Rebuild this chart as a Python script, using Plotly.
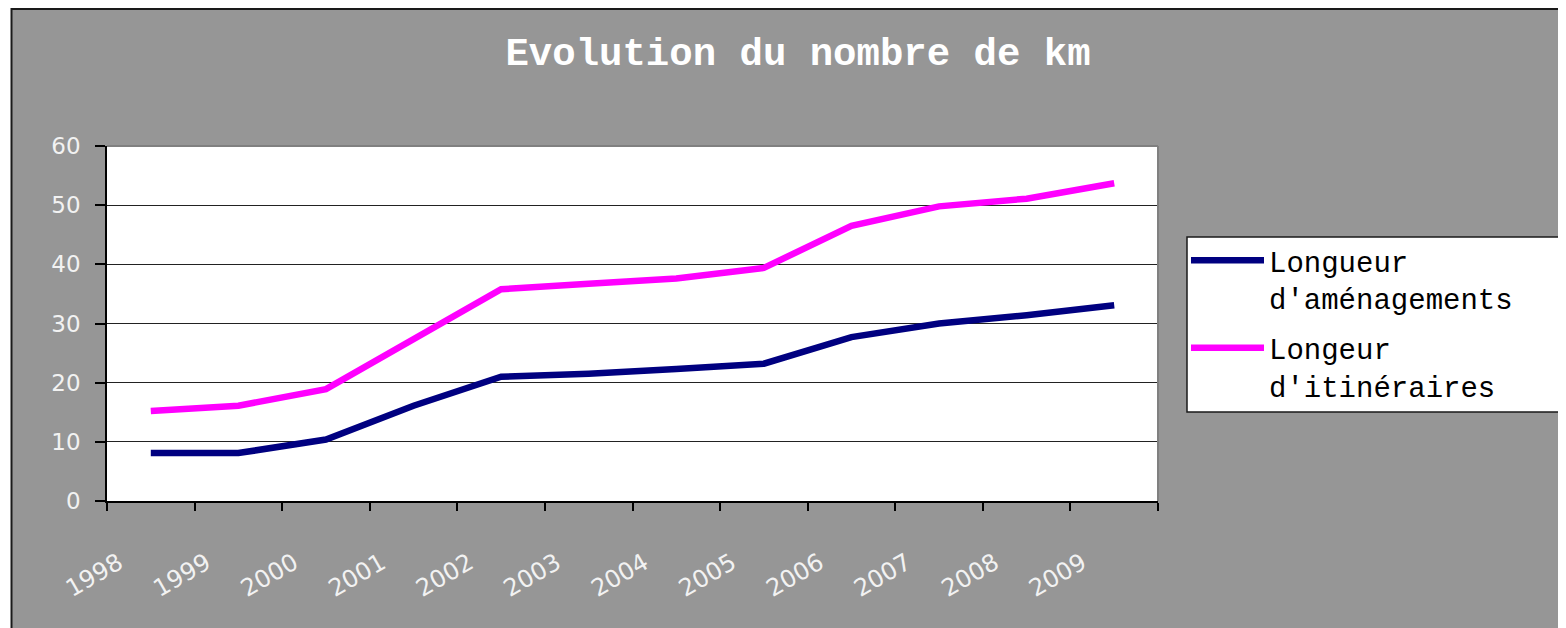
import plotly.graph_objects as go

years = ["1998", "1999", "2000", "2001", "2002", "2003", "2004", "2005", "2006", "2007", "2008", "2009"]
amenagements = [8.1, 8.1, 10.4, 16.1, 21.0, 21.5, 22.3, 23.2, 27.7, 30.0, 31.4, 33.1]
itineraires = [15.2, 16.1, 18.9, 27.4, 35.8, 36.7, 37.6, 39.4, 46.5, 49.8, 51.1, 53.7]

title_text = "Evolution du nombre de km"
name_a = "Longueur<br>d'aménagements"
name_i = "Longeur<br>d'itinéraires"

# page body has an 8px margin: figure origin sits at screen (8, 8)
OFF = 8
W, H = 1566 - OFF, 628 - OFF
L, R, T, B = 107 - OFF, 1158 - OFF, 146 - OFF, 501 - OFF
pw, ph = R - L, B - T


def px_x(p):
    """screen x pixel -> paper fraction"""
    return (p - OFF - L) / pw


def px_y(p):
    """screen y pixel -> paper fraction"""
    return (B - (p - OFF)) / ph


fig = go.Figure()
fig.add_trace(go.Scatter(x=years, y=amenagements, mode="lines", name=name_a, legendgroup="a",
                         line=dict(color="#000080", width=6.5)))
fig.add_trace(go.Scatter(x=years, y=itineraires, mode="lines", name=name_i, legendgroup="i",
                         line=dict(color="#FF00FF", width=6.5)))

shapes = [
    # white strip left of the chart frame
    dict(type="rect", xref="paper", yref="paper", x0=px_x(0), x1=px_x(11), y0=px_y(700), y1=px_y(0),
         fillcolor="white", line=dict(width=0), layer="below"),
    # frame border lines
    dict(type="line", xref="paper", yref="paper", x0=px_x(11), x1=px_x(1600), y0=px_y(9), y1=px_y(9),
         line=dict(color="#1a1a1a", width=2)),
    dict(type="line", xref="paper", yref="paper", x0=px_x(11.5), x1=px_x(11.5), y0=px_y(8), y1=px_y(700),
         line=dict(color="#1a1a1a", width=2)),
    # plot area top/right border
    dict(type="line", xref="paper", yref="paper", x0=0, x1=1, y0=1, y1=1,
         line=dict(color="#808080", width=2)),
    dict(type="line", xref="paper", yref="paper", x0=1, x1=1, y0=0, y1=1,
         line=dict(color="#808080", width=2)),
    # legend box (extends past the right edge, as in the original)
    dict(type="rect", xref="paper", yref="paper", x0=px_x(1187), x1=px_x(1620), y0=px_y(412), y1=px_y(237),
         fillcolor="white", line=dict(color="#1a1a1a", width=1.5), layer="below"),
]

fig.update_layout(
    width=W, height=H,
    margin=dict(l=L, r=W - R, t=T, b=H - B, pad=0),
    paper_bgcolor="#969696",
    plot_bgcolor="white",
    shapes=shapes,
    title=dict(text="<b>" + title_text + "</b>", x=px_x(798), xref="paper", xanchor="center",
               y=1 - (51 - OFF) / H, yref="container", yanchor="middle",
               font=dict(family="Liberation Mono", size=39, color="white")),
    showlegend=True,
    legend=dict(x=px_x(1186), y=px_y(235), xanchor="left", yanchor="top",
                bgcolor="rgba(0,0,0,0)", borderwidth=0,
                font=dict(family="Liberation Mono", size=29, color="black"),
                itemwidth=73, tracegroupgap=9, traceorder="grouped", valign="top"),
    xaxis=dict(type="category", range=[-0.5, 11.5], tickson="boundaries",
               ticks="outside", ticklen=8, tickwidth=1.5, tickcolor="black",
               showline=True, linecolor="black", linewidth=1.5,
               showgrid=False, tickangle=-30,
               tickfont=dict(family="DejaVu Sans", size=24, color="#f2f2f2"),
               ticklabelshift=-32, ticklabelstandoff=37),
    yaxis=dict(range=[0, 60], tickvals=[0, 10, 20, 30, 40, 50, 60],
               ticks="outside", ticklen=10, tickwidth=1.5, tickcolor="black",
               showline=True, linecolor="black", linewidth=1.5,
               showgrid=True, gridcolor="#222222", gridwidth=1,
               zeroline=False,
               tickfont=dict(family="DejaVu Sans", size=23, color="#f2f2f2"),
               ticklabelstandoff=10),
)

fig.write_html("out.html")
